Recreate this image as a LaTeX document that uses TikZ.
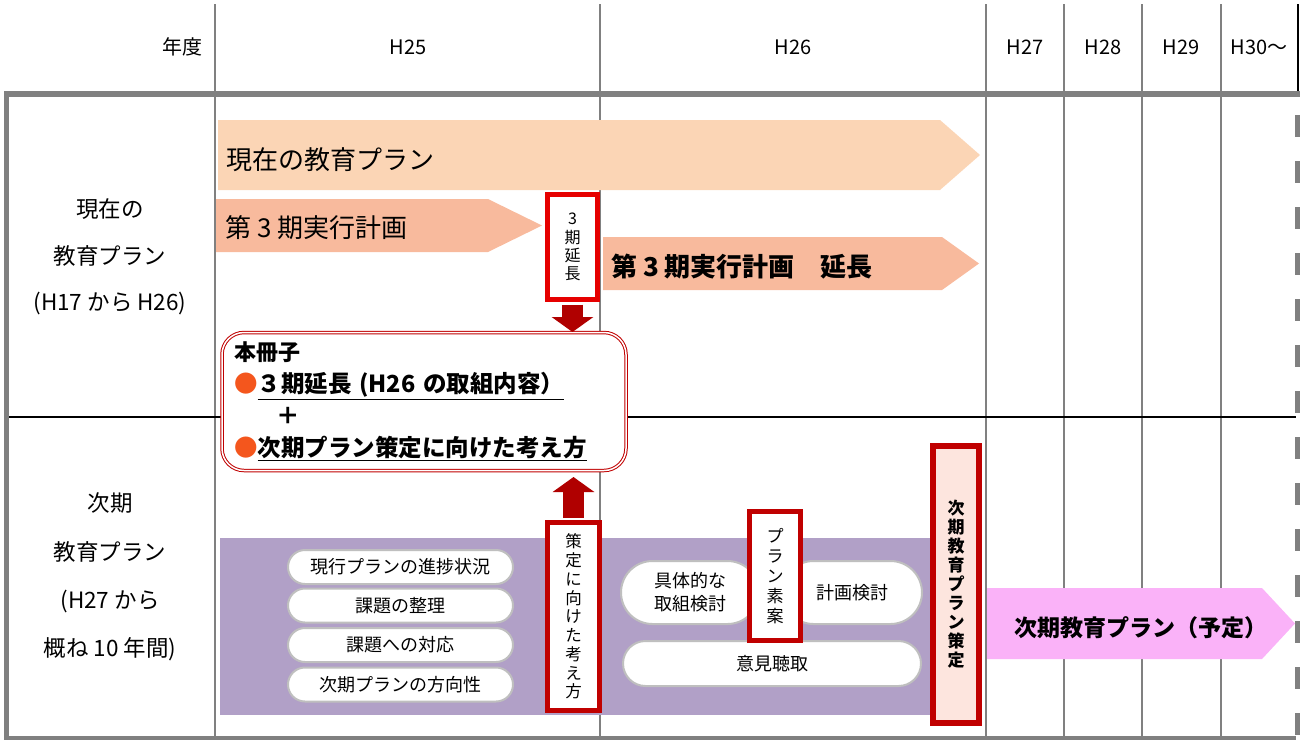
\documentclass[tikz,border=0pt]{standalone}
\usepackage{fontspec}
\setmainfont{Noto Sans CJK JP}
\usetikzlibrary{arrows.meta,positioning,shapes.misc}
\definecolor{gridgray}{RGB}{128,128,128}
\definecolor{planpeach}{RGB}{251,213,181}
\definecolor{plansalmon}{RGB}{248,186,157}
\definecolor{planpink}{RGB}{250,178,248}
\definecolor{stagepurple}{RGB}{177,160,199}
\definecolor{boxred}{RGB}{192,0,0}
\definecolor{brightred}{RGB}{230,0,0}
\definecolor{arrowred}{RGB}{176,0,0}
\definecolor{dotorange}{RGB}{244,86,29}
\definecolor{decidefill}{RGB}{253,229,222}
\definecolor{pillgray}{RGB}{191,191,191}
\tikzset{redbox/.style={draw=boxred,line width=5pt,fill=white,align=center,inner sep=0pt,font=\fontsize{17}{20}\selectfont},
  pill/.style={rounded rectangle,draw=pillgray,line width=2pt,fill=white,align=center,inner sep=0pt,font=\fontsize{18}{23}\selectfont},
  blockarr/.style={arrowred,line width=21pt,-{Triangle[length=15pt,width=41pt]}},
  hdr/.style={inner sep=0pt,font=\fontsize{20}{24}\selectfont},
  plantext/.style={anchor=west,inner sep=0pt,font=\fontsize{26}{30}\selectfont}}

\begin{document}
\begin{tikzpicture}[x=1pt,y=-1pt]
\useasboundingbox (0,0) rectangle (1300,740);
% table grid
\foreach \x in {215,600,986,1064,1142,1221}
  \draw[gridgray,line width=2pt] (\x,4) -- (\x,736);
\draw[line width=1.5pt] (1298,4) -- (1298,92);
\draw[gridgray,line width=6pt] (4,93.5) -- (1300,93.5);
\draw[gridgray,line width=5pt] (6.5,91) -- (6.5,740);
\draw[gridgray,line width=4pt] (4,738) -- (1296,738);
\draw[gridgray,line width=5pt,dash pattern=on 22pt off 24pt] (1297.5,115) -- (1297.5,740);
\draw[line width=2pt] (9,416.5) -- (1296,416.5);

% header
\node[hdr,anchor=east] (nendo) at (203,47) {年度};
\node[hdr] (h25) at (408,47) {H25};
\node[hdr] (h26) at (793,47) {H26};
\node[hdr] (h27) at (1025,47) {H27};
\node[hdr] (h28) at (1103,47) {H28};
\node[hdr] (h29) at (1181,47) {H29};
\node[hdr] (h30) at (1259,47) {H30〜};

% row labels
\node[align=center,font=\fontsize{22.5}{46.5}\selectfont] (curlbl) at (110,257) {現在の\\教育プラン\\(H17 から H26)};
\node[align=center,font=\fontsize{22.5}{48.3}\selectfont] (nextlbl) at (110,577) {次期\\教育プラン\\(H27 から\\概ね 10 年間)};

% plan arrows
\fill[planpeach] (218,120) -- (940,120) -- (980,155) -- (940,190) -- (218,190) -- cycle;
\node[plantext] (curplan) at (226,160) {現在の教育プラン};
\fill[plansalmon] (216,199) -- (488,199) -- (542,225.5) -- (488,252) -- (216,252) -- cycle;
\node[plantext] (third) at (225,228) {第 3 期実行計画};
\fill[plansalmon] (603,237) -- (942,237) -- (979,263.5) -- (942,290) -- (603,290) -- cycle;
\node[plantext,font=\bfseries\fontsize{26}{30}\selectfont] (thirdext) at (611,267) {第 3 期実行計画　延長};
\fill[planpink] (987,588) -- (1262,588) -- (1295,623.5) -- (1262,659) -- (987,659) -- cycle;
\node[inner sep=0pt,font=\bfseries\fontsize{23}{27}\selectfont] (nextplan) at (1141,628) {次期教育プラン（予定）};

% booklet
\node[draw=boxred,double=white,double distance=1.5pt,line width=1pt,rounded corners=22pt,fill=white,
  text width=380pt,inner xsep=12pt,inner ysep=0pt,minimum height=138pt,align=left,
  font=\bfseries\fontsize{23.5}{32}\selectfont] (book) at (424,401.5)
  {{\fontsize{22}{32}\selectfont 本冊子}\\
   {\color{dotorange}●}\underline{３期延長 (H26 の取組内容）}\\
   \hspace*{42pt}＋\\
   {\color{dotorange}●}\underline{次期プラン策定に向けた考え方}};

% next plan preparation
\fill[stagepurple] (220,538) rectangle (935,715);
\foreach \y/\t [count=\i] in {567/現行プランの進捗状況,605.5/課題の整理,645/課題への対応,684.5/次期プランの方向性}
  \node[pill,minimum width=225pt,minimum height=34pt] (task\i) at (400.5,\y) {\t};
\node[pill,minimum width=138pt,minimum height=63pt] (study) at (690,592.5) {具体的な\\取組検討};
\node[pill,minimum width=140pt,minimum height=63pt] (review) at (852,592.5) {計画検討};
\node[pill,minimum width=298pt,minimum height=45pt] (hearing) at (772,663.5) {意見聴取};

% red boxes
\node[redbox,draw=brightred,minimum width=50pt,minimum height=105pt,font=\fontsize{16}{18.3}\selectfont] (ext) at (572.5,247) {3\\期\\延\\長};
\node[redbox,minimum width=52pt,minimum height=188pt,font=\fontsize{16.5}{18.75}\selectfont] (toward) at (573.5,616.5) {策\\定\\に\\向\\け\\た\\考\\え\\方};
\node[redbox,minimum width=51pt,minimum height=129pt] (draft) at (775,576) {プ\\ラ\\ン\\素\\案};
\node[redbox,line width=6pt,fill=decidefill,minimum width=46pt,minimum height=277pt,font=\bfseries\fontsize{17}{19}\selectfont] (decide) at (956,584.5) {次\\期\\教\\育\\プ\\ラ\\ン\\策\\定};

% block arrows
\draw[blockarr,shorten <=2.5pt] (ext.south) -- (ext.south |- book.north);
\draw[blockarr,shorten <=2.5pt,shorten >=6pt] (toward.north) -- (toward.north |- book.south);
\end{tikzpicture}
\end{document}
